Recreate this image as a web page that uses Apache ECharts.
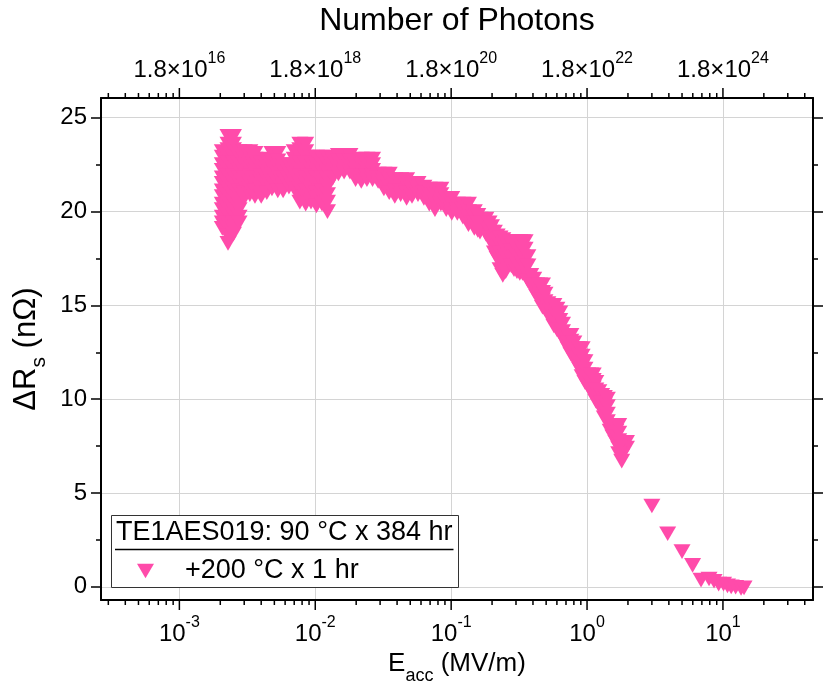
<!DOCTYPE html>
<html><head><meta charset="utf-8">
<script src="https://cdn.jsdelivr.net/npm/echarts@6/dist/echarts.min.js"></script>
<style>html,body{margin:0;padding:0;background:#fff}#c{width:828px;height:692px}</style>
</head><body><div id="c"></div>
<script>
const FONT = '"Liberation Sans", Arial, sans-serif';
const seriesName = '+200 °C x 1 hr';
const legendTitle = 'TE1AES019: 90 °C x 384 hr';

// Dense sweep region: field values (MV/m) and the ΔRs readings (nΩ) at each
const bandEacc = [0.00207, 0.00228, 0.0025, 0.00275, 0.003, 0.0033, 0.0036, 0.004, 0.0044, 0.0048,
  0.0053, 0.0058, 0.0064, 0.007, 0.0077, 0.0085, 0.0093, 0.0102, 0.0112, 0.0123,
  0.0135, 0.0148, 0.0163, 0.018, 0.0198, 0.0218, 0.024, 0.0264, 0.029, 0.032,
  0.035, 0.0385, 0.0425, 0.047, 0.0515, 0.057, 0.063, 0.069, 0.076, 0.084,
  0.092, 0.101, 0.111, 0.122, 0.134, 0.148, 0.163, 0.18, 0.198, 0.218,
  0.24, 0.264, 0.29, 0.32, 0.35, 0.385, 0.425, 0.47, 0.515, 0.57,
  0.63, 0.69, 0.76, 0.84, 0.92, 1.01, 1.11, 1.22, 1.34, 1.48,
  1.63, 1.8, 1.95];
const bandDRs = [
  [23.2, 22.9, 22.5, 22.2, 21.8, 21.5, 21.1, 20.8, 20.4, 20.1, 19.7, 19.4, 19.1],
  [24.0, 23.6, 23.3, 22.9, 22.6, 22.2, 21.9, 21.5, 21.2, 20.8, 20.5, 20.1, 19.8, 19.4, 19.1, 18.7, 18.3],
  [24.0, 23.6, 23.3, 22.9, 22.6, 22.2, 21.9, 21.5, 21.2, 20.8, 20.5, 20.1, 19.8, 19.4, 19.1, 18.8],
  [23.2, 22.9, 22.5, 22.2, 21.8, 21.5, 21.1, 20.8, 20.4, 20.1, 19.7, 19.4],
  [23.2, 22.8, 22.5, 22.1, 21.8, 21.4, 21.0, 20.7],
  [23.2, 22.9, 22.5, 22.2, 21.9, 21.5, 21.2, 20.9],
  [23.1, 22.8, 22.4, 22.1, 21.8, 21.4, 21.1, 20.8],
  [22.6, 22.3, 21.9, 21.6, 21.2, 20.8],
  [22.8, 22.4, 22.1, 21.7, 21.3, 21.0],
  [23.1, 22.7, 22.4, 22.0, 21.6, 21.2],
  [23.1, 22.7, 22.4, 22.0, 21.5, 21.1],
  [22.5, 22.2, 21.8, 21.4, 21.1],
  [22.5, 22.1, 21.7, 21.3],
  [23.2, 22.8, 22.4, 22.0, 21.6, 21.2],
  [23.6, 23.3, 22.9, 22.6, 22.2, 21.9, 21.5, 21.2, 20.8, 20.5],
  [23.6, 23.2, 22.9, 22.5, 22.2, 21.8, 21.5, 21.1, 20.8, 20.4],
  [22.9, 22.6, 22.2, 21.9, 21.5, 21.2, 20.8, 20.5],
  [22.9, 22.5, 22.2, 21.8, 21.4, 21.0, 20.7, 20.3],
  [22.9, 22.5, 22.2, 21.8, 21.5, 21.1, 20.8, 20.4],
  [22.9, 22.5, 22.1, 21.7, 21.3, 20.9, 20.5, 20.0],
  [22.8, 22.4, 22.1, 21.8],
  [23.0, 22.7, 22.3, 22.0],
  [23.0, 22.7, 22.4, 22.1],
  [23.0, 22.7, 22.4, 22.1],
  [22.5, 22.2, 21.9, 21.7],
  [22.8, 22.5, 22.2, 21.9, 21.6],
  [22.8, 22.5, 22.2, 21.9, 21.7],
  [22.8, 22.5, 22.2, 21.9, 21.7],
  [22.0, 21.8, 21.6],
  [22.0, 21.7, 21.5, 21.2],
  [22.0, 21.7, 21.3, 21.0],
  [21.7, 21.4, 21.1, 20.8],
  [21.7, 21.4, 21.1, 20.9],
  [21.7, 21.4, 21.0, 20.7],
  [21.5, 21.2, 20.8],
  [21.5, 21.2, 20.9],
  [21.3, 21.0, 20.7],
  [21.2, 20.9, 20.6, 20.4],
  [21.2, 20.9, 20.5, 20.1],
  [21.2, 20.9, 20.6, 20.4],
  [20.7, 20.4, 20.1],
  [20.7, 20.4, 20.1, 19.9],
  [20.4, 20.1, 19.9],
  [20.4, 20.1, 19.7],
  [20.4, 20.0, 19.7, 19.3],
  [20.0, 19.7, 19.4, 19.1],
  [19.6, 19.3, 18.9],
  [19.6, 19.3, 19.0, 18.8],
  [19.2, 18.9, 18.6, 18.3],
  [18.7, 18.3, 17.9, 17.5],
  [18.5, 18.2, 17.8, 17.4, 17.0, 16.6],
  [18.3, 17.9, 17.5, 17.1],
  [18.4, 18.0, 17.6, 17.3, 16.9],
  [18.4, 18.0, 17.6, 17.1, 16.7],
  [18.4, 18.0, 17.5, 17.1, 16.6],
  [16.6, 16.3, 16.1],
  [16.1, 15.8, 15.5],
  [16.1, 15.7, 15.3, 14.9],
  [15.1, 14.8, 14.5],
  [15.0, 14.6, 14.3, 13.9],
  [14.6, 14.2, 13.9, 13.5],
  [13.4, 13.2, 13.0],
  [13.4, 13.1, 12.7, 12.4],
  [12.7, 12.4, 12.2, 11.9],
  [12.7, 12.3, 12.0, 11.6, 11.2],
  [11.3, 11.0, 10.7],
  [11.3, 11.0, 10.6, 10.2],
  [10.4, 10.1, 9.7],
  [10.1, 9.7, 9.4, 9.0],
  [8.6, 8.3],
  [8.6, 8.3, 8.0, 7.7],
  [7.7, 7.4, 7.0, 6.7],
  [7.7, 7.4]
];
// Further readings lying between the columns above
const midEacc = [0.157, 0.19, 0.208, 0.229, 0.252, 0.277, 0.305, 0.335, 0.367,
  0.405, 0.447, 0.49, 0.54, 0.6, 0.66, 0.725, 0.8, 0.88, 0.965,
  1.06, 1.16, 1.28, 1.41, 1.55, 1.71];
const midDRs = [
  [19.8, 19.4, 19.0],
  [19.4, 19.0, 18.6],
  [18.9, 18.5, 18.1, 17.8],
  [18.6, 18.2, 17.8, 17.3, 16.9],
  [18.4, 18.0, 17.6, 17.2, 16.8],
  [18.3, 17.9, 17.5, 17.1],
  [18.4, 18.0, 17.6, 17.2, 16.8],
  [18.4, 18.0, 17.6, 17.2, 16.7],
  [17.6, 17.1, 16.6, 16.3],
  [16.4, 16.1, 15.8],
  [16.1, 15.7, 15.3],
  [15.6, 15.2, 14.8],
  [15.0, 14.7, 14.3],
  [14.8, 14.4, 14.0, 13.7],
  [14.0, 13.6, 13.3],
  [13.4, 13.0, 12.7],
  [13.0, 12.6, 12.2],
  [12.7, 12.3, 11.9, 11.6],
  [12.0, 11.6, 11.2, 10.9],
  [11.3, 10.9, 10.5],
  [10.9, 10.5, 10.1, 9.9],
  [10.2, 9.8, 9.4],
  [10.0, 9.6, 9.2, 8.8],
  [8.6, 8.3, 8.0],
  [8.6, 8.2, 7.8, 7.4, 7.1]
];
// Sparse high-field points
const tailEacc = [3.0, 3.92, 5.0, 5.98, 6.9, 7.9, 8.6, 9.3, 10.1, 10.8, 11.5, 12.4, 13.6, 14.3];
const tailDRs = [4.31, 2.83, 1.88, 1.15, 0.36, 0.42, 0.3, 0.15, 0.15, 0.05, 0.0, -0.02, -0.08, -0.05];

// Axis ticks / labels
const xMajorTicks = [1e-3, 1e-2, 1e-1, 1, 10];
const xMinorTicks = [3e-4, 4e-4, 5e-4, 6e-4, 7e-4, 8e-4, 9e-4,
  2e-3, 3e-3, 4e-3, 5e-3, 6e-3, 7e-3, 8e-3, 9e-3,
  2e-2, 3e-2, 4e-2, 5e-2, 6e-2, 7e-2, 8e-2, 9e-2,
  0.2, 0.3, 0.4, 0.5, 0.6, 0.7, 0.8, 0.9,
  2, 3, 4, 5, 6, 7, 8, 9,
  20, 30, 40];
const bottomTickExponents = ['-3', '-2', '-1', '0', '1'];
const topTickExponents = ['16', '18', '20', '22', '24'];
const yMajorTicks = [0, 5, 10, 15, 20, 25];
const yMinorTicks = [2.5, 7.5, 12.5, 17.5, 22.5];

const X_MIN = 2.65e-4, X_MAX = 46, Y_MIN = -0.7, Y_MAX = 26.05;
const TRI = 'path://M0,0L20,0L10,17.32Z';
const PINK = '#FF4BAA';

const points = [];
bandEacc.forEach((e, i) => bandDRs[i].forEach(r => points.push([e, r])));
midEacc.forEach((e, i) => midDRs[i].forEach(r => points.push([e, r])));
tailEacc.forEach((e, i) => points.push([e, tailDRs[i]]));

function majorIndex(v) {
  for (let i = 0; i < xMajorTicks.length; i++) {
    if (Math.abs(Math.log10(v) - Math.log10(xMajorTicks[i])) < 1e-6) return i;
  }
  return -1;
}

const supRich = {
  b: { fontSize: 24, lineHeight: 31, verticalAlign: 'bottom', fontFamily: FONT, color: '#000' },
  sup: { fontSize: 16, lineHeight: 16, verticalAlign: 'top', fontFamily: FONT, color: '#000' }
};
const subRichX = {
  b: { fontSize: 26, lineHeight: 30, verticalAlign: 'top', fontFamily: FONT, color: '#000' },
  sub: { fontSize: 18, lineHeight: 18, padding: [16, 0, 0, 0], verticalAlign: 'top', fontFamily: FONT, color: '#000' }
};
const subRichY = {
  b: { fontSize: 31, lineHeight: 32, verticalAlign: 'top', fontFamily: FONT, color: '#000' },
  sub: { fontSize: 21, lineHeight: 21, padding: [17, 0, 0, 0], verticalAlign: 'top', fontFamily: FONT, color: '#000' }
};

function tickSeries(values, len) {
  return {
    type: 'custom', coordinateSystem: 'cartesian2d', xAxisIndex: 0, yAxisIndex: 0,
    silent: true, clip: false, z: 5, animation: false,
    data: values.map(v => [v, 10]),
    renderItem(params, api) {
      const cs = params.coordSys;
      const x = api.coord([api.value(0), 10])[0];
      const yb = cs.y + cs.height, yt = cs.y;
      const st = { stroke: '#000', lineWidth: 1.5 };
      return { type: 'group', children: [
        { type: 'line', shape: { x1: x, y1: yb, x2: x, y2: yb + len }, style: st },
        { type: 'line', shape: { x1: x, y1: yt, x2: x, y2: yt - len }, style: st }
      ] };
    }
  };
}

function yAx(pos, ticks, len, showLine, extra) {
  return Object.assign({
    type: 'value', position: pos, min: Y_MIN, max: Y_MAX, splitNumber: 5,
    axisLine: { show: showLine, onZero: false, lineStyle: { color: '#000', width: 2 } },
    axisTick: { show: true, inside: false, length: len, customValues: ticks, lineStyle: { color: '#000', width: 1.5 } },
    axisLabel: { show: false },
    splitLine: { show: false }
  }, extra || {});
}

const mctx = document.createElement('canvas').getContext('2d');
mctx.font = '27px "Liberation Sans"';
const titleW = mctx.measureText(legendTitle).width;

const chart = echarts.init(document.getElementById('c'), null, { renderer: 'canvas' });
chart.setOption({
  animation: false,
  backgroundColor: '#fff',
  grid: { left: 101, top: 97, width: 712, height: 503, containLabel: false },
  xAxis: [
    {
      type: 'log', position: 'bottom', min: X_MIN, max: X_MAX, logBase: 10,
      axisLine: { show: true, onZero: false, lineStyle: { color: '#000', width: 2 } },
      axisTick: { show: false },
      minorTick: { show: false },
      splitLine: { show: true, lineStyle: { color: '#d4d4d4', width: 1 } },
      axisLabel: {
        margin: 15, hideOverlap: false,
        formatter: v => { const i = majorIndex(v); return i < 0 ? '' : '{b|10}{sup|' + bottomTickExponents[i] + '}'; },
        rich: supRich
      },
      name: '{b|E}{sub|acc}{b| (MV/m)}', nameLocation: 'middle', nameGap: 44,
      nameTextStyle: { rich: subRichX }
    },
    {
      type: 'log', position: 'top', min: X_MIN, max: X_MAX, logBase: 10,
      axisLine: { show: true, onZero: false, lineStyle: { color: '#000', width: 2 } },
      axisTick: { show: false },
      minorTick: { show: false },
      splitLine: { show: false },
      axisLabel: {
        margin: 16, hideOverlap: false,
        formatter: v => { const i = majorIndex(v); return i < 0 ? '' : '{b|1.8×10}{sup|' + topTickExponents[i] + '}'; },
        rich: supRich
      },
      name: 'Number of Photons', nameLocation: 'middle', nameGap: 61,
      nameTextStyle: { fontSize: 32, fontFamily: FONT, color: '#000' }
    }
  ],
  yAxis: [
    yAx('left', yMajorTicks, 10, true, {
      axisLabel: {
        show: true, customValues: yMajorTicks, margin: 14,
        formatter: v => (yMajorTicks.indexOf(v) >= 0 ? String(v) : ''),
        fontSize: 24, fontFamily: FONT, color: '#000'
      },
      splitLine: { show: true, lineStyle: { color: '#d4d4d4', width: 1 } },
      name: '{b|ΔR}{sub|s}{b| (nΩ)}', nameLocation: 'middle', nameGap: 52, nameRotate: 90,
      nameTextStyle: { rich: subRichY }
    }),
    yAx('left', yMinorTicks, 5, false),
    yAx('right', yMajorTicks, 10, true),
    yAx('right', yMinorTicks, 5, false)
  ],
  legend: {
    data: [{ name: seriesName, icon: TRI }],
    left: 132, top: 551, padding: 5, z: 20,
    itemWidth: 17, itemHeight: 15,
    textStyle: { fontSize: 27, lineHeight: 30, fontFamily: FONT, color: '#000', padding: [0, 0, 0, 26] },
    selectedMode: false
  },
  graphic: [
    { type: 'rect', z: 3, shape: { x: 111.5, y: 515.5, width: 347, height: 72 },
      style: { fill: '#fff', stroke: '#333', lineWidth: 1 } },
    { type: 'text', z: 4, x: 116, y: 533,
      style: { text: legendTitle, fontSize: 27, fontFamily: FONT, fill: '#000', verticalAlign: 'middle', align: 'left' } },
    { type: 'line', z: 4, shape: { x1: 115, y1: 549.5, x2: 117 + titleW, y2: 549.5 },
      style: { stroke: '#000', lineWidth: 1.5 } }
  ],
  series: [
    {
      type: 'scatter', name: seriesName, data: points,
      symbol: TRI, symbolSize: [17, 14.7],
      itemStyle: { color: PINK, opacity: 1 }, z: 2, animation: false
    },
    tickSeries(xMajorTicks, 10),
    tickSeries(xMinorTicks, 5)
  ]
});
</script>
</body></html>
